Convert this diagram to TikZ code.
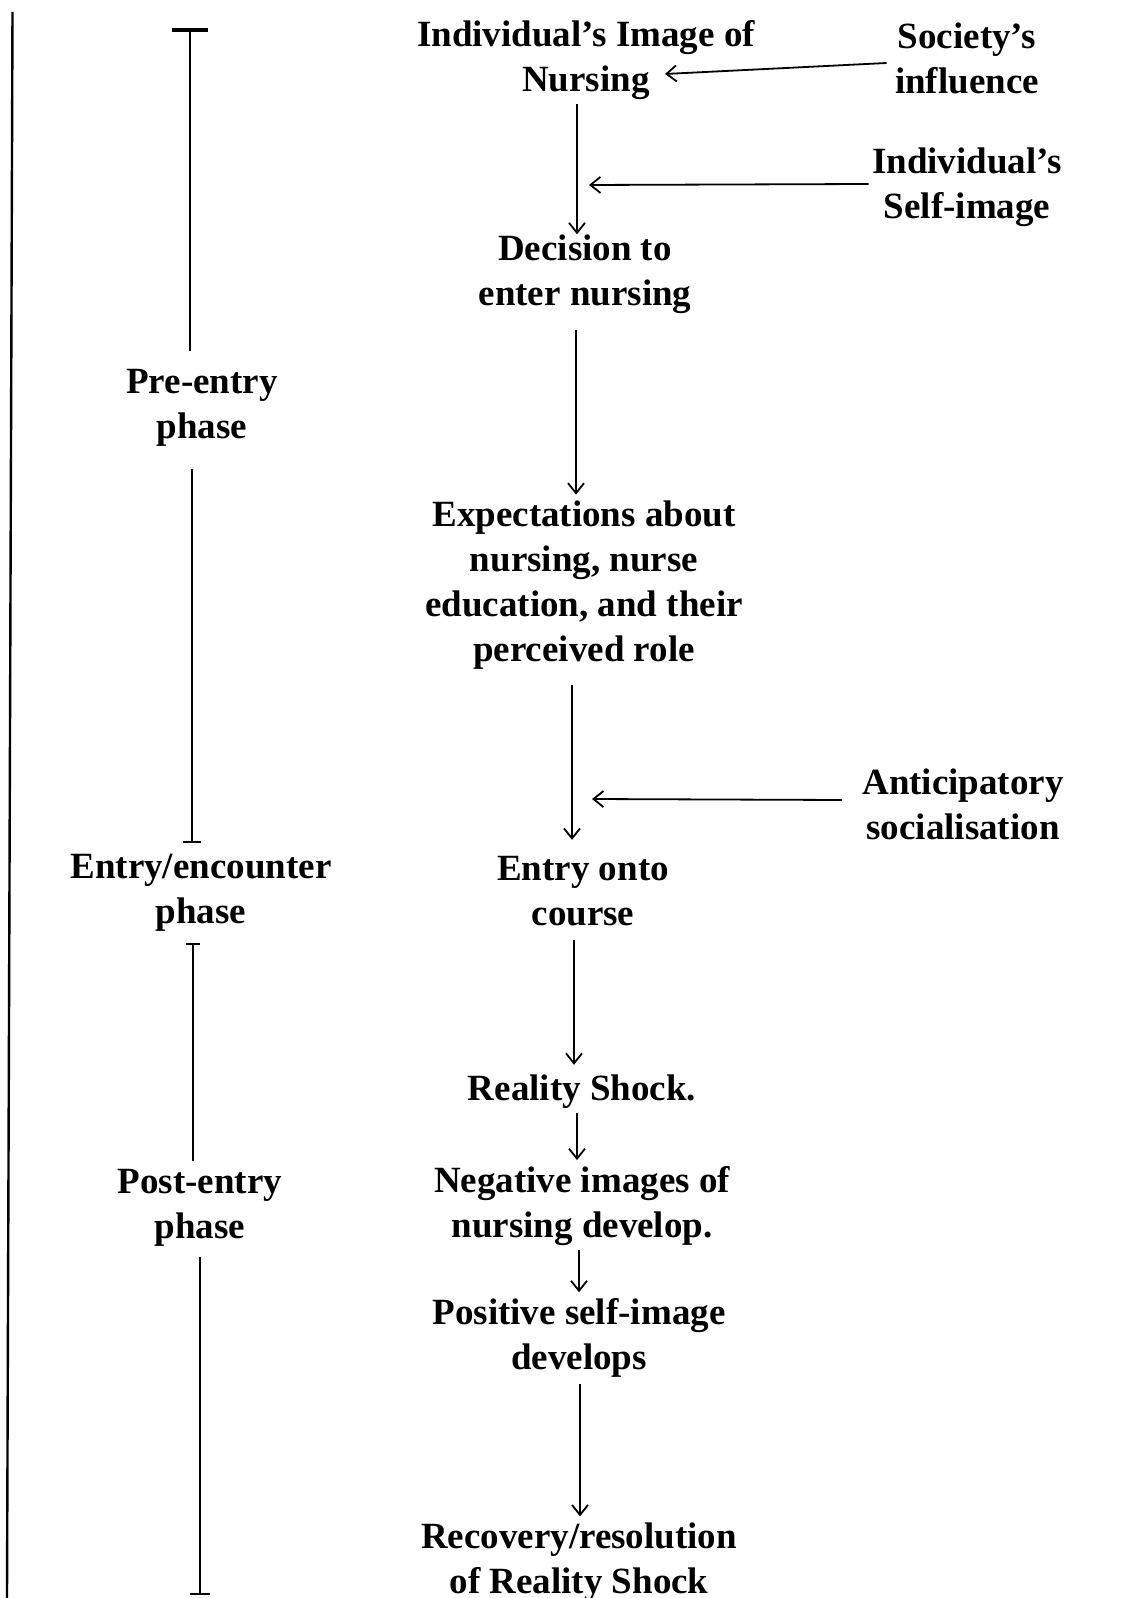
\documentclass[tikz,border=0pt]{standalone}
\usepackage{fontspec}
\setmainfont{Liberation Serif}
\usetikzlibrary{arrows.meta}

\tikzset{
  lbl/.style={font=\bfseries\fontsize{18.5}{22.4}\selectfont, align=center, inner sep=0pt},
  arr/.style={line width=0.9pt, -{Straight Barb[length=5pt,width=8pt]}},
  phaseline/.style={line width=0.9pt},
}

\begin{document}
\begin{tikzpicture}[x=0.5pt,y=-0.5pt]
  \useasboundingbox (0,0) rectangle (1146,1598);
  % left margin rule
  \draw[line width=1.2pt] (12.5,12) -- (7,1598);

  % main column
  \node[lbl] (img) at (586,60) {Individual’s Image of\\Nursing};
  \node[lbl] (dec) at (585,274) {Decision to\\enter nursing};
  \node[lbl] (expect) at (584,585) {Expectations about\\nursing, nurse\\education, and their\\perceived role};
  \node[lbl] (entry) at (583,891) {Entry onto\\course};
  \node[lbl] (shock) at (582,1092) {Reality Shock.};
  \node[lbl] (neg) at (582,1206) {Negative images of\\nursing develop.};
  \node[lbl] (pos) at (579,1338) {Positive self-image\\develops};
  \node[lbl] (rec) at (579,1562) {Recovery/resolution\\of Reality Shock};

  % influences
  \node[lbl] (soc) at (967,58) {Society’s\\influence};
  \node[lbl] (self) at (967,187) {Individual’s\\Self-image};
  \node[lbl] (antic) at (963,804) {Anticipatory\\socialisation};
  \coordinate (joinA) at (589,185);
  \coordinate (joinB) at (592,799);

  % phases
  \node[lbl] (pre) at (202,408) {Pre-entry\\phase};
  \node[lbl] (enc) at (201,893) {Entry/encounter\\phase};
  \node[lbl] (post) at (200,1208) {Post-entry\\phase};
  \coordinate (preTop) at (190,28);
  \coordinate (preEnd) at (192,843);
  \coordinate (postTop) at (193,943);
  \coordinate (postEnd) at (200,1595);

  \draw[arr, shorten <=2pt] ([xshift=-4.5pt]img.south) -- ([xshift=-4pt]dec.north);
  \draw[arr, shorten <=8pt, shorten >=3pt] ([xshift=-4.5pt]dec.south) -- ([xshift=-4pt]expect.north);
  \draw[arr, shorten <=8pt, shorten >=8pt] ([xshift=-6pt]expect.south) -- ([xshift=-5.5pt]entry.north);
  \draw[arr, shorten <=7pt, shorten >=5pt] ([xshift=-4.5pt]entry.south) -- ([xshift=-4pt]shock.north);
  \draw[arr, shorten <=2pt, shorten >=3pt] ([xshift=-2.5pt]shock.south) -- ([xshift=-2.5pt]neg.north);
  \draw[arr, shorten <=2pt, shorten >=3pt] ([xshift=-1.5pt]neg.south) -- ([xshift=0pt]pos.north);
  \draw[arr, shorten <=3pt, shorten >=3pt] ([xshift=0.5pt]pos.south) -- ([xshift=0.5pt]rec.north);

  \draw[arr] ([xshift=-4pt,yshift=-2.5pt]soc.west) -- ([shift={(39.5pt,-7pt)}]img.center);
  \draw[arr] ([xshift=-1.5pt,yshift=1.5pt]self.west) -- (joinA);
  \draw[arr] ([xshift=-10pt,yshift=2pt]antic.west) -- (joinB);

  \draw[phaseline, {Bar[width=18pt,line width=2pt]}-, shorten >=9pt] (preTop) -- (pre.north -| preTop);
  \draw[phaseline, -{Bar[width=9pt]}, shorten <=11pt] (pre.south -| preEnd) -- (preEnd);
  \draw[phaseline, {Bar[width=7pt]}-, shorten >=4pt] (postTop) -- (post.north -| postTop);
  \draw[phaseline, -{Bar[width=10pt]}, shorten <=5pt] (post.south -| postEnd) -- (postEnd);
\end{tikzpicture}
\end{document}
